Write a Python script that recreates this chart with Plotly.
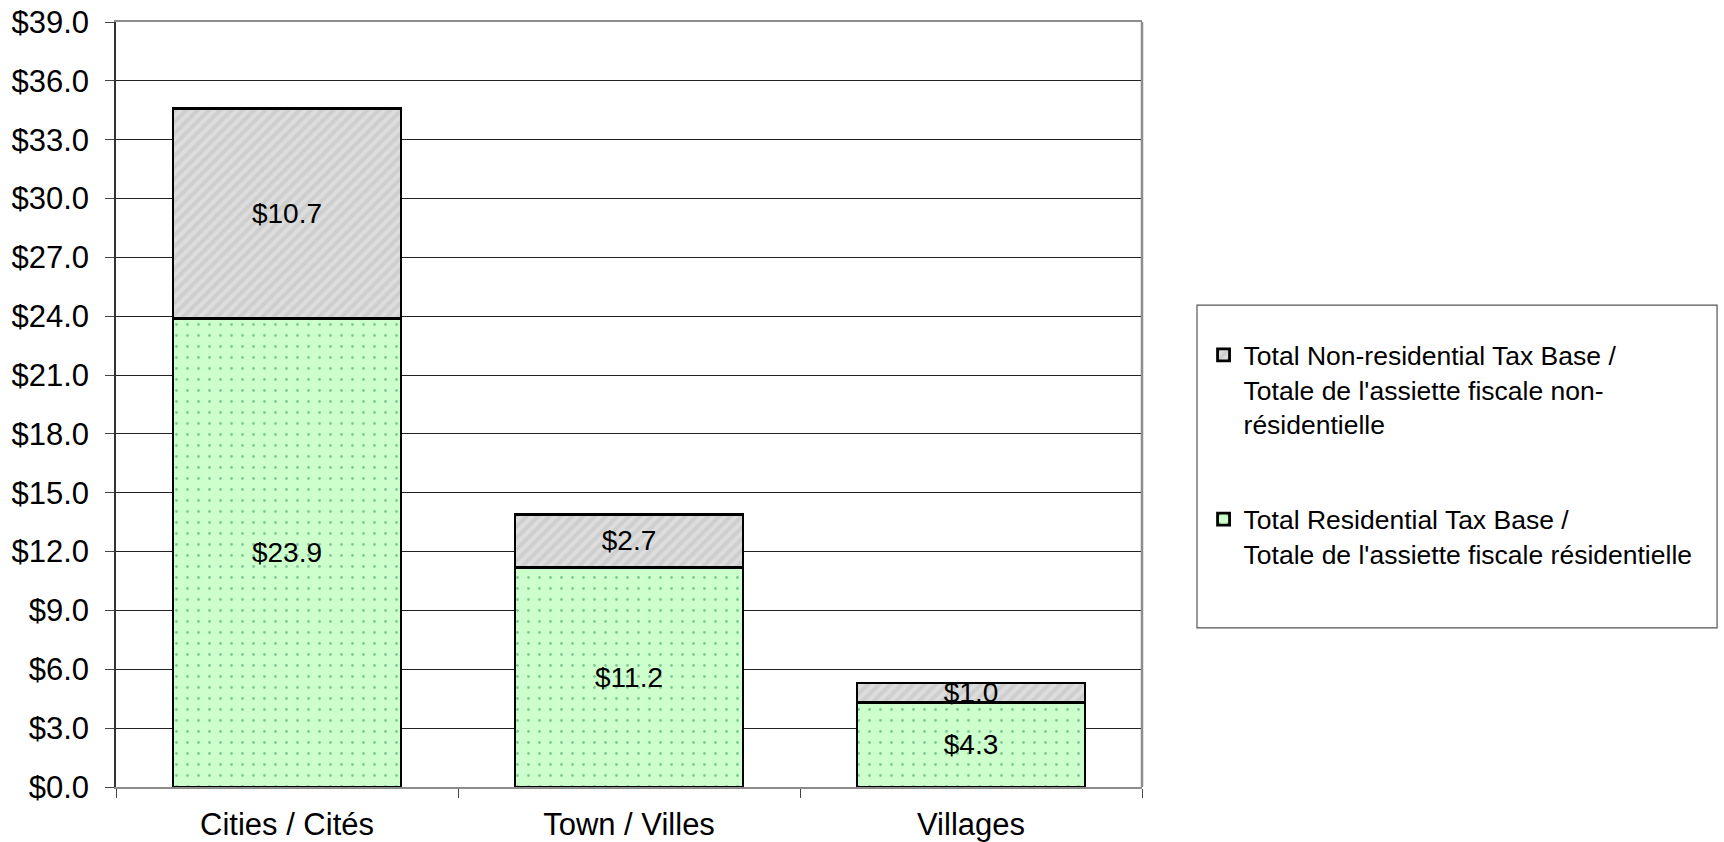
import plotly.graph_objects as go

categories = ["Cities / Cités", "Town / Villes", "Villages"]
residential = [23.9, 11.2, 4.3]
non_residential = [10.7, 2.7, 1.0]
name_res = "Total Residential Tax Base /<br>Totale de l'assiette fiscale résidentielle"
name_nonres = "Total Non-residential Tax Base /<br>Totale de l'assiette fiscale non-<br>résidentielle"

FONT = "Liberation Sans, Arial, sans-serif"

fig = go.Figure()
fig.add_trace(go.Bar(
    x=categories, y=residential, name=name_res, legendgroup="res", legendrank=2,
    marker=dict(color="#CCFFCC", line=dict(color="black", width=2.8),
                pattern=dict(shape=".", fgcolor="#2F9460", bgcolor="#CCFFCC", size=11, solidity=0.05, fillmode="overlay")),
    text=[f"${v:.1f}" for v in residential], textposition="inside", insidetextanchor="middle",
    textangle=0, constraintext="none", insidetextfont=dict(color="black", size=28, family=FONT),
))
fig.add_trace(go.Bar(
    x=categories, y=non_residential, name=name_nonres, legendgroup="nonres", legendrank=1,
    marker=dict(color="#DDDDDD", line=dict(color="black", width=2.8),
                pattern=dict(shape="/", fgcolor="#C0C0C0", bgcolor="#DDDDDD", size=8, solidity=0.5, fillmode="overlay")),
    text=[f"${v:.1f}" for v in non_residential], textposition="inside", insidetextanchor="middle",
    textangle=0, constraintext="none", insidetextfont=dict(color="black", size=28, family=FONT),
))

fig.update_layout(
    barmode="stack", bargap=1/3,
    width=1724, height=842,
    margin=dict(l=116, r=582, t=22, b=55),
    paper_bgcolor="white", plot_bgcolor="white",
    font=dict(family=FONT, size=31, color="black"),
    showlegend=True,
    legend=dict(x=1.060, y=0.596, xanchor="left", yanchor="top", traceorder="grouped",
                tracegroupgap=58, valign="top", font=dict(size=26.5, family=FONT),
                bgcolor="rgba(0,0,0,0)", borderwidth=0, itemwidth=30),
    shapes=[
        dict(type="rect", xref="paper", yref="paper", x0=1.0536, x1=1.5605, y0=0.208, y1=0.630,
             line=dict(color="#555555", width=1.2), fillcolor="rgba(0,0,0,0)", layer="below"),
        dict(type="line", xref="x domain", yref="y domain", x0=1, x1=1, y0=0, y1=1,
             line=dict(color="#8C8C8C", width=2.5), layer="above"),
    ],
)
fig.update_xaxes(showgrid=False, showline=True, linecolor="#8C8C8C", linewidth=2, mirror=True,
                 ticks="outside", tickson="boundaries", ticklen=9, tickcolor="#444444",
                 ticklabelstandoff=9, automargin=False, tickfont=dict(size=31, family=FONT))
fig.update_yaxes(range=[0, 39], dtick=3, tick0=0, tickprefix="$", tickformat=".1f",
                 showgrid=True, gridcolor="#222222", gridwidth=1,
                 showline=True, linecolor="#333333", linewidth=1.5,
                 ticks="outside", ticklen=9, tickcolor="#444444", ticklabelstandoff=10,
                 ticklabeloverflow="allow", automargin=False,
                 tickfont=dict(size=31, family=FONT), zeroline=False)

fig.write_html("out.html", config={"displayModeBar": False},
               post_script="document.body.style.margin='0';")
